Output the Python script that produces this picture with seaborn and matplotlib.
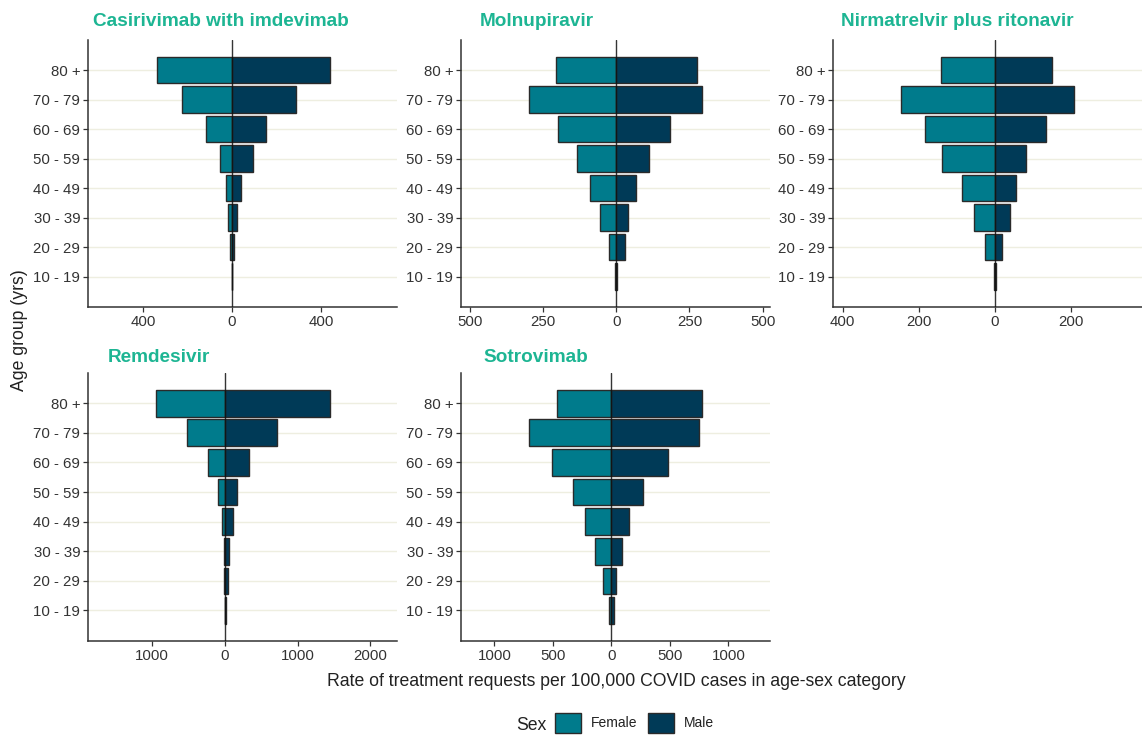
import matplotlib
matplotlib.use("Agg")
import matplotlib.pyplot as plt
from matplotlib.patches import Patch
import numpy as np
import pandas as pd
import seaborn as sns

sns.set_theme(style="white")
plt.rcParams["font.family"] = ["Liberation Sans", "DejaVu Sans"]

age_groups = ["80 +", "70 - 79", "60 - 69", "50 - 59", "40 - 49", "30 - 39", "20 - 29", "10 - 19"]

treatments = ["Casirivimab with imdevimab", "Molnupiravir", "Nirmatrelvir plus ritonavir",
              "Remdesivir", "Sotrovimab"]

# Rates per 100,000 COVID cases, ordered as age_groups
casirivimab_female = [338, 226, 117, 54, 26, 19, 10, 0]
casirivimab_male = [440, 288, 153, 93, 40, 24, 9, 0]
molnupiravir_female = [206, 297, 198, 135, 91, 55, 25, 3]
molnupiravir_male = [275, 292, 185, 111, 66, 41, 30, 4]
nirmatrelvir_female = [142, 246, 183, 138, 85, 54, 25, 3]
nirmatrelvir_male = [150, 208, 136, 82, 55, 39, 20, 4]
remdesivir_female = [945, 513, 229, 96, 32, 18, 18, 2]
remdesivir_male = [1444, 715, 339, 170, 106, 55, 41, 12]
sotrovimab_female = [467, 701, 507, 330, 227, 137, 74, 22]
sotrovimab_male = [773, 750, 485, 268, 154, 91, 40, 20]

female_rates = [casirivimab_female, molnupiravir_female, nirmatrelvir_female,
                remdesivir_female, sotrovimab_female]
male_rates = [casirivimab_male, molnupiravir_male, nirmatrelvir_male,
              remdesivir_male, sotrovimab_male]

x_limits = [(-647, 742), (-530, 525), (-425, 387), (-1880, 2366), (-1285, 1356)]
x_ticks = [[-400, 0, 400], [-500, -250, 0, 250, 500], [-400, -200, 0, 200],
           [-1000, 0, 1000, 2000], [-1000, -500, 0, 500, 1000]]

female_col = "#007B8C"
male_col = "#003A57"
title_col = "#1DB593"
text_col = "#333333"
grid_col = "#EEEEE0"

W, H = 1142, 735
fig = plt.figure(figsize=(W / 100, H / 100), dpi=100)

# panel boxes in pixels: left, top, right, bottom
boxes = [(88, 40, 397, 307), (461, 40, 770, 307), (833, 40, 1142, 307),
         (88, 373, 397, 641), (461, 373, 770, 641)]
title_x = [93, 480, 841, 108, 483]
title_y = [21, 21, 21, 357, 357]


def to_fig(l, t, r, b):
    return [l / W, 1 - b / H, (r - l) / W, (b - t) / H]


for i, name in enumerate(treatments):
    ax = fig.add_axes(to_fig(*boxes[i]))
    df = pd.DataFrame({
        "age": age_groups * 2,
        "rate": [-v for v in female_rates[i]] + list(male_rates[i]),
        "sex": ["Female"] * len(age_groups) + ["Male"] * len(age_groups),
    })
    sns.barplot(data=df, y="age", x="rate", hue="sex", order=age_groups,
                hue_order=["Female", "Male"], palette=[female_col, male_col],
                dodge=False, saturation=1, width=0.9, edgecolor="#2a2a2a",
                linewidth=1.0, legend=False, ax=ax, zorder=3)
    ax.axvline(0, color="#111111", lw=1.0, zorder=5, alpha=0.85)
    ax.set_xlim(*x_limits[i])
    ax.set_ylim(8.03, -1.02)
    ax.set_xticks(x_ticks[i])
    ax.set_xticklabels([f"{abs(t)}" for t in x_ticks[i]])
    ax.set_xlabel("")
    ax.set_ylabel("")
    ax.yaxis.grid(True, color=grid_col, lw=1.0, zorder=0)
    ax.xaxis.grid(False)
    ax.set_axisbelow(True)
    for s in ["top", "right"]:
        ax.spines[s].set_visible(False)
    for s in ["left", "bottom"]:
        ax.spines[s].set_color("#333333")
        ax.spines[s].set_linewidth(1.1)
    ax.tick_params(axis="both", which="both", length=3.5, width=0.9, color="#333333",
                   labelsize=10.8, labelcolor=text_col, pad=2, left=True, bottom=True)
    fig.text(title_x[i] / W, 1 - title_y[i] / H, name, color=title_col,
             fontsize=13.7, fontweight="bold", ha="left", va="center")

fig.text(20 / W, 1 - 330 / H, "Age group (yrs)", rotation=90, ha="center", va="center",
         fontsize=12.7, color="#222222")
fig.text(616 / W, 1 - 682 / H, "Rate of treatment requests per 100,000 COVID cases in age-sex category",
         ha="center", va="center", fontsize=12.7, color="#222222")

fig.text(531 / W, 1 - 725 / H, "Sex", ha="center", va="center", fontsize=12.7, color="#222222")
handles = [Patch(facecolor=female_col, edgecolor="#2a2a2a", label="Female"),
           Patch(facecolor=male_col, edgecolor="#2a2a2a", label="Male")]
fig.legend(handles=handles, ncol=2, loc="center left", bbox_to_anchor=(548 / W, 1 - 723 / H),
           frameon=False, fontsize=10, handlelength=1.85, handleheight=1.85,
           handletextpad=0.75, columnspacing=0.75, borderpad=0, labelcolor="#222222")

fig.savefig("out.png", dpi=100)
